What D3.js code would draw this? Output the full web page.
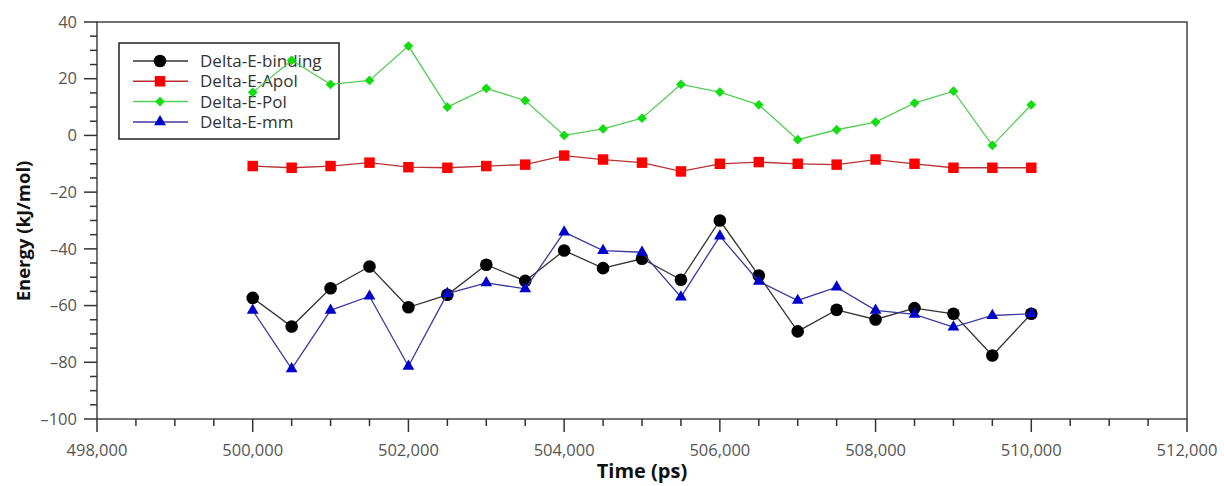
<!DOCTYPE html>
<html><head><meta charset="utf-8">
<script src="https://cdn.jsdelivr.net/npm/d3@7"></script>
<style>body{margin:0;background:#fff}svg{display:block}</style>
</head><body>
<svg id="chart" width="1224" height="486"></svg>
<script>
const times = [500000,500500,501000,501500,502000,502500,503000,503500,504000,504500,505000,505500,506000,506500,507000,507500,508000,508500,509000,509500,510000];
const binding = [-57.3,-67.4,-53.9,-46.2,-60.6,-56.2,-45.6,-51.3,-40.6,-46.8,-43.5,-50.9,-30.0,-49.4,-69.1,-61.5,-64.9,-60.9,-62.9,-77.6,-62.9];
const apol = [-10.8,-11.4,-10.8,-9.6,-11.2,-11.4,-10.8,-10.3,-7.1,-8.5,-9.6,-12.7,-10.0,-9.4,-10.0,-10.3,-8.5,-10.0,-11.4,-11.4,-11.4];
const pol = [15.2,26.5,18.0,19.4,31.5,10.0,16.6,12.3,0.0,2.3,6.1,18.0,15.3,10.8,-1.5,2.0,4.7,11.4,15.6,-3.5,10.8];
const mm = [-61.7,-82.3,-61.7,-56.7,-81.4,-55.8,-52.0,-54.1,-34.1,-40.6,-41.2,-57.0,-35.5,-51.5,-58.2,-53.5,-61.7,-63.1,-67.6,-63.5,-62.9];
const xTicks = [498000,500000,502000,504000,506000,508000,510000,512000];
const yTicks = [40,20,0,-20,-40,-60,-80,-100];
const seriesNames = ["Delta-E-binding","Delta-E-Apol","Delta-E-Pol","Delta-E-mm"];

const series = [
  {name:seriesNames[0], values:binding, line:"#333333", fill:"#000000", shape:d3.symbolCircle, size:125, rot:0},
  {name:seriesNames[1], values:apol, line:"#b83030", fill:"#ff0000", shape:d3.symbolSquare, size:110, rot:0},
  {name:seriesNames[2], values:pol, line:"#55cc55", fill:"#11dd11", shape:d3.symbolSquare, size:48, rot:45},
  {name:seriesNames[3], values:mm, line:"#3a3aa0", fill:"#0000cc", shape:d3.symbolTriangle, size:60, rot:0}
];

const svg = d3.select("#chart");
const L = 97, R = 1187, T = 22, B = 419;
const x = d3.scaleLinear().domain([498000,512000]).range([L,R]);
const y = d3.scaleLinear().domain([-100,40]).range([B,T]);
const fmt = d3.format(",");
const FONT = "Open Sans, sans-serif";

// box
svg.append("rect").attr("x",L).attr("y",T).attr("width",R-L).attr("height",B-T)
  .attr("fill","none").attr("stroke","#444").attr("stroke-width",1.5);

// x axis
const xMinor = d3.range(498000,512001,500);
const gx = svg.append("g").attr("transform",`translate(0,${B})`);
gx.selectAll("line").data(xMinor).join("line")
  .attr("x1",d=>x(d)).attr("x2",d=>x(d)).attr("y1",0).attr("y2",d=>d%2000===0?13:7)
  .attr("stroke","#333").attr("stroke-width",1.5);
gx.selectAll("text").data(xTicks).join("text")
  .attr("x",d=>x(d)).attr("y",37).attr("text-anchor","middle")
  .attr("font-family",FONT).attr("font-size",16.5).attr("fill","#555")
  .text(d=>fmt(d));

// y axis
const yMinor = d3.range(-100,40.1,5);
const gy = svg.append("g").attr("transform",`translate(${L},0)`);
gy.selectAll("line").data(yMinor).join("line")
  .attr("y1",d=>y(d)).attr("y2",d=>y(d)).attr("x1",0).attr("x2",d=>d%20===0?-13:-7)
  .attr("stroke","#333").attr("stroke-width",1.5);
gy.selectAll("text").data(yTicks).join("text")
  .attr("x",-20).attr("y",d=>y(d)).attr("dy","0.35em").attr("text-anchor","end")
  .attr("font-family",FONT).attr("font-size",16.5).attr("fill","#555")
  .text(d=>d<0?"\u2013"+Math.abs(d):d);

// axis titles
svg.append("text").attr("x",642).attr("y",478).attr("text-anchor","middle")
  .attr("font-family",FONT).attr("font-weight","bold").attr("font-size",20).attr("fill","#111")
  .text("Time (ps)");
svg.append("text").attr("transform",`translate(30,231) rotate(-90)`).attr("text-anchor","middle")
  .attr("font-family",FONT).attr("font-weight","bold").attr("font-size",18.5).attr("fill","#111")
  .text("Energy (kJ/mol)");

// legend (drawn beneath the data, transparent)
const lg = svg.append("g");
lg.append("rect").attr("x",119).attr("y",43).attr("width",220).attr("height",96)
  .attr("fill","none").attr("stroke","#222").attr("stroke-width",1.5);
series.forEach((s,i)=>{
  const yy = 61 + i*20.3;
  lg.append("line").attr("x1",133).attr("x2",188).attr("y1",yy).attr("y2",yy)
    .attr("stroke",s.line).attr("stroke-width",1.5);
  lg.append("path").attr("transform",`translate(160,${yy}) rotate(${s.rot})`)
    .attr("d",d3.symbol().type(s.shape).size(s.size)).attr("fill",s.fill);
  lg.append("text").attr("x",200).attr("y",yy).attr("dy","0.35em")
    .attr("font-family",FONT).attr("font-size",17).attr("fill","#333")
    .text(s.name);
});

// series
const line = d3.line().x((d,i)=>x(times[i])).y(d=>y(d));
series.forEach(s=>{
  svg.append("path").datum(s.values).attr("d",line).attr("fill","none")
    .attr("stroke",s.line).attr("stroke-width",1.3);
  svg.append("g").selectAll("path").data(s.values).join("path")
    .attr("transform",(d,i)=>`translate(${x(times[i])},${y(d)}) rotate(${s.rot})`)
    .attr("d",d3.symbol().type(s.shape).size(s.size)).attr("fill",s.fill);
});
</script>
</body></html>
